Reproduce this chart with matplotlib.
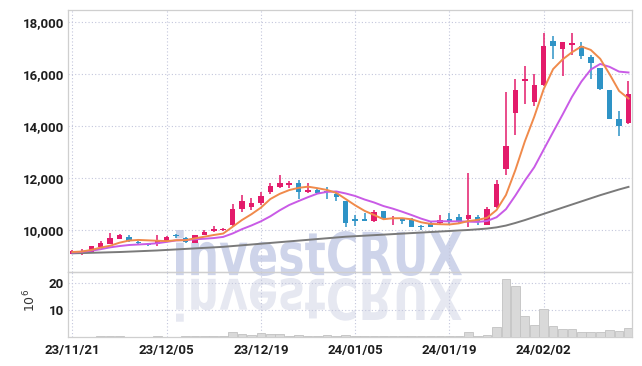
import matplotlib
matplotlib.use("Agg")
import matplotlib.pyplot as plt
import numpy as np
from matplotlib.textpath import TextPath
from matplotlib.patches import PathPatch
from matplotlib.font_manager import FontProperties
from matplotlib.transforms import Affine2D
from matplotlib.ticker import FuncFormatter

plt.rcParams['font.family'] = ['Roboto', 'DejaVu Sans']

# tick labels on the category (trading day) axis
tick_idx = [0, 10, 20, 30, 40, 50]
tick_labels = ['23/11/21', '23/12/05', '23/12/19', '24/01/05', '24/01/19', '24/02/02']

opens = [9090, 9130, 9150, 9340, 9460, 9660, 9720, 9520, 9440, 9460,
         9540, 9780, 9700, 9510, 9820, 9950, 9990, 10180, 10820, 10900,
         11030, 11460, 11670, 11720, 11820, 11460, 11540, 11520, 11390, 11100,
         10440, 10440, 10340, 10720, 10430, 10440, 10410, 10140, 10260, 10280,
         10410, 10510, 10440, 10510, 10210, 10900, 12340, 14500, 15730, 14930,
         15580, 17270, 16960, 17140, 17090, 16680, 16240, 15390, 14290, 14110]
highs = [9220, 9250, 9400, 9560, 9870, 9850, 9820, 9590, 9480, 9790,
         9750, 9850, 9720, 9820, 10000, 10150, 10090, 11010, 11360, 11230,
         11460, 11820, 12100, 11880, 11930, 11820, 11560, 11640, 11440, 11100,
         10560, 10640, 10770, 10720, 10540, 10440, 10450, 10200, 10300, 10560,
         10640, 10610, 12210, 10560, 10870, 11930, 15320, 15800, 16300, 16010,
         17600, 17470, 17240, 17600, 17260, 16760, 16240, 15390, 14590, 15750]
lows = [9070, 9030, 9130, 9330, 9450, 9640, 9530, 9430, 9400, 9400,
        9520, 9700, 9480, 9490, 9800, 9930, 9970, 10130, 10690, 10750,
        10980, 11380, 11620, 11620, 11200, 11420, 11400, 11200, 11100, 10100,
        10170, 10340, 10310, 10440, 10180, 10240, 10100, 9990, 10100, 10180,
        10180, 10260, 10130, 10180, 10200, 10830, 12110, 13650, 14850, 14780,
        15530, 16580, 15930, 16750, 16600, 15830, 15390, 14260, 13610, 14080]
closes = [9200, 9180, 9380, 9510, 9690, 9790, 9590, 9500, 9430, 9610,
          9720, 9760, 9540, 9790, 9920, 10050, 10040, 10820, 11100, 11030,
          11310, 11700, 11820, 11820, 11460, 11540, 11410, 11480, 11260, 10260,
          10340, 10340, 10690, 10440, 10450, 10340, 10130, 10120, 10130, 10390,
          10290, 10340, 10570, 10340, 10820, 11770, 13240, 15390, 15830, 15580,
          17090, 17100, 17240, 17220, 16700, 16420, 15420, 14260, 14020, 15240]

# volume in millions of shares
volume = [0.1, 0.1, 0.1, 0.2, 0.4, 0.2, 0.1, 0.1, 0.1, 0.3,
          0.1, 0.1, 0.2, 0.3, 0.3, 0.3, 0.3, 2.0, 1.0, 0.6,
          1.3, 1.0, 1.0, 0.4, 0.6, 0.4, 0.3, 0.6, 0.3, 0.9,
          0.3, 0.2, 0.3, 0.2, 0.2, 0.3, 0.2, 0.2, 0.2, 0.2,
          0.3, 0.3, 2.0, 0.3, 0.8, 3.7, 21.6, 18.8, 7.7, 4.4,
          10.5, 4.2, 3.1, 3.1, 1.7, 2.0, 2.0, 2.7, 2.4, 3.2]

# moving average lines
ma5 = [9150, 9170, 9230, 9320, 9392, 9510, 9592, 9616, 9600, 9584,
       9570, 9604, 9606, 9678, 9740, 9806, 9862, 10124, 10386, 10608,
       10860, 11192, 11392, 11536, 11622, 11668, 11610, 11542, 11430, 11190,
       10950, 10736, 10578, 10414, 10452, 10452, 10410, 10296, 10234, 10222,
       10212, 10254, 10344, 10386, 10472, 10768, 11348, 12312, 13410, 14362,
       15426, 16198, 16568, 16846, 17070, 16936, 16594, 15998, 15356, 15064]
ma10 = [9130, 9160, 9200, 9260, 9330, 9380, 9420, 9440, 9460, 9488,
        9540, 9598, 9611, 9639, 9662, 9688, 9733, 9865, 10032, 10174,
        10333, 10527, 10758, 10961, 11115, 11264, 11401, 11467, 11483, 11406,
        11309, 11173, 11060, 10922, 10821, 10701, 10573, 10437, 10324, 10337,
        10332, 10332, 10320, 10310, 10347, 10490, 10801, 11328, 11898, 12417,
        13097, 13773, 14440, 15128, 15716, 16181, 16396, 16283, 16101, 16067]
ma_long = [9100, 9110, 9120, 9130, 9140, 9150, 9165, 9180, 9195, 9210,
           9230, 9250, 9270, 9290, 9310, 9330, 9350, 9380, 9410, 9440,
           9470, 9500, 9530, 9560, 9590, 9620, 9650, 9680, 9710, 9740,
           9760, 9780, 9800, 9820, 9840, 9860, 9880, 9900, 9920, 9940,
           9960, 9980, 10000, 10025, 10055, 10100, 10170, 10270, 10380, 10500,
           10620, 10740, 10860, 10980, 11100, 11220, 11340, 11450, 11560, 11660]

up_color = '#e31b6b'
down_color = '#2e93c6'
grid_color = '#c3c6dc'
label_color = '#1e1e1e'

fig = plt.figure(figsize=(6.42, 3.66), dpi=100)
ax = fig.add_axes([0.1059, 0.2568, 0.8785, 0.7159])
axv = fig.add_axes([0.1059, 0.0792, 0.8785, 0.1776], sharex=ax)

x = np.arange(len(closes))
o = np.array(opens)
c = np.array(closes)
colors = [up_color if cc >= oo else down_color for oo, cc in zip(o, c)]
bottoms = np.minimum(o, c)
heights = np.maximum(np.abs(c - o), 35)

ax.vlines(x, lows, highs, colors=colors, linewidth=1.1, zorder=3)
ax.bar(x, heights, bottom=bottoms, width=0.58, color=colors, linewidth=0, zorder=4)

ax.plot(x, ma_long, color='#7a7a7a', linewidth=1.4, zorder=5)
ax.plot(x, ma10, color='#c95be6', linewidth=1.4, zorder=5)
ax.plot(x, ma5, color='#f08a4b', linewidth=1.4, zorder=6)

axv.bar(x, volume, width=0.92, color='#d9d9d9', edgecolor='#c2c2c2',
        linewidth=0.6, zorder=3)

for a in (ax, axv):
    a.set_facecolor('none')
    a.grid(True, color=grid_color, linestyle=(0, (1, 2)), linewidth=0.8, zorder=1)
    a.tick_params(axis='both', length=0, labelsize=9.5, labelcolor=label_color, pad=3)
    for s in a.spines.values():
        s.set_color('#cfcfcf')
        s.set_linewidth(0.9)
axv.tick_params(axis='x', pad=5)

ax.set_xlim(-0.47, 59.37)
ax.set_ylim(8380, 18475)
ax.set_yticks([10000, 12000, 14000, 16000, 18000])
ax.yaxis.set_major_formatter(FuncFormatter(lambda v, p: f'{v:,.0f}'))
ax.set_xticks(tick_idx)
ax.tick_params(axis='x', labelbottom=False)

axv.set_ylim(0, 24)
axv.set_yticks([10, 20])
axv.set_xticks(tick_idx)
axv.set_xticklabels(tick_labels)

for a in (ax, axv):
    for lab in a.get_yticklabels() + a.get_xticklabels():
        lab.set_fontweight('bold')

fig.text(30 / 642, 1 - 300 / 366, r'$10^{6}$', rotation=90, ha='center',
         va='center', fontsize=9, color='#333333')

# watermark with reflection
tp = TextPath((0, 0), 'investCRUX', size=50,
              prop=FontProperties(family='DejaVu Sans', weight='bold'))
bb = tp.get_extents()
sx = 286 / bb.width
sy = 46 / bb.height
main_tr = Affine2D().translate(-bb.x0, -bb.y0).scale(sx, sy).translate(176, 366 - 276)
refl_tr = Affine2D().translate(-bb.x0, -bb.y0).scale(sx, -sy * 0.95).translate(176, 366 - 278)
fig.add_artist(PathPatch(tp, transform=refl_tr, facecolor='#e6e8f1', edgecolor='none', zorder=-2))
fig.add_artist(PathPatch(tp, transform=main_tr, facecolor='#ced4ea', edgecolor='none', zorder=-1))

fig.savefig('out.png', dpi=100)
